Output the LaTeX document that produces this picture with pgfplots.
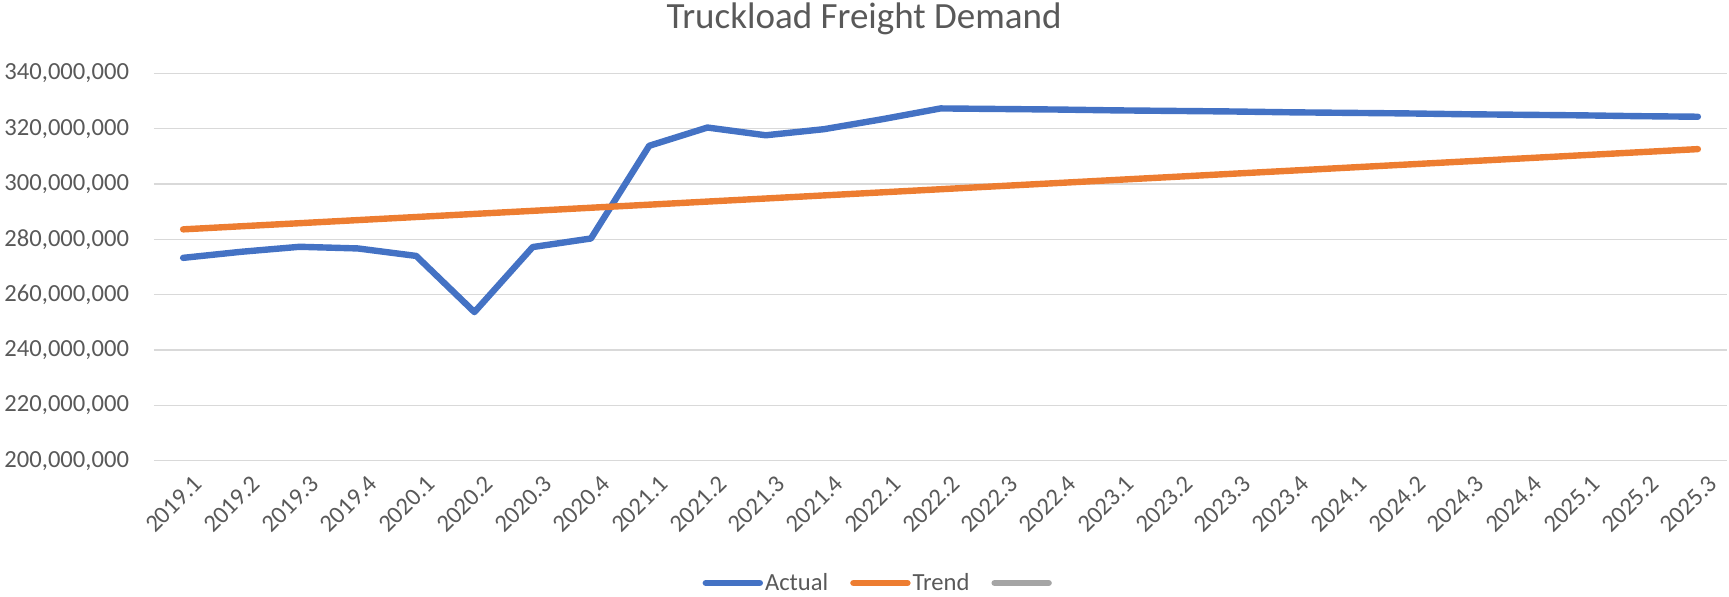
\documentclass[border=0pt]{standalone}
\usepackage{pgfplots}
\pgfplotsset{compat=1.18}
\usepackage{fontspec}
\setmainfont{Carlito}
\definecolor{txt}{HTML}{595959}
\definecolor{grd}{HTML}{D9D9D9}
\definecolor{cA}{HTML}{4472C4}
\definecolor{cB}{HTML}{ED7D31}
\definecolor{cC}{HTML}{A5A5A5}
\begin{document}
\begin{tikzpicture}
\path[use as bounding box] (0,0) rectangle (864.5pt,298.5pt);
\begin{axis}[
  at={(77pt,68.15pt)}, anchor=south west,
  scale only axis, width=786.5pt, height=193.7pt,
  xmin=-0.5, xmax=26.5, ymin=200000000, ymax=340000000,
  xtick={0,...,26},
  xticklabels={2019.1,2019.2,2019.3,2019.4,2020.1,2020.2,2020.3,2020.4,2021.1,2021.2,2021.3,2021.4,2022.1,2022.2,2022.3,2022.4,2023.1,2023.2,2023.3,2023.4,2024.1,2024.2,2024.3,2024.4,2025.1,2025.2,2025.3},
  ytick={200000000,220000000,240000000,260000000,280000000,300000000,320000000,340000000},
  scaled y ticks=false,
  yticklabel style={/pgf/number format/fixed,/pgf/number format/precision=0,/pgf/number format/1000 sep={,},/pgf/number format/assume math mode=true, font=\fontsize{12.3}{14}\selectfont, text=txt, anchor=east, xshift=-9pt},
  xticklabel style={rotate=45, anchor=east, font=\fontsize{12.3}{14}\selectfont, text=txt, yshift=-12pt, xshift=2pt},
  major tick length=0pt,
  axis line style={draw=none},
  ymajorgrids, grid style={grd, line width=0.75pt},
  every axis title shift=0pt,
  title={Truckload Freight Demand},
  title style={at={(0.4514,1.1144)}, anchor=base, font=\fontsize{18.5}{20}\selectfont, text=txt},
  legend style={draw=none, fill=none, at={(0.3447,-0.3157)}, anchor=west, legend columns=3, font=\fontsize{12.3}{14}\selectfont, text=txt, nodes={inner sep=1pt}, /tikz/every even column/.append style={column sep=10pt}},
  legend image code/.code={\draw[#1, line cap=round] (0pt,0pt) -- (27pt,0pt);},
  clip=false,
]
\addplot[cA, line width=3.2pt, line cap=round, line join=round] coordinates {
(0,273300000) (1,275500000) (2,277300000) (3,276700000) (4,274000000) (5,253700000) (6,277200000) (7,280300000) (8,313800000) (9,320400000) (10,317600000) (11,319800000) (12,323400000) (13,327300000) (14,327100000) (15,326900000) (16,326600000) (17,326400000) (18,326200000) (19,325900000) (20,325700000) (21,325500000) (22,325200000) (23,325000000) (24,324800000) (25,324500000) (26,324300000)
};
\addlegendentry{Actual}
\addplot[cB, line width=3.2pt, line cap=round, line join=round] coordinates {
(0,283600000) (1,284720000) (2,285830000) (3,286950000) (4,288060000) (5,289180000) (6,290290000) (7,291410000) (8,292520000) (9,293640000) (10,294750000) (11,295870000) (12,296980000) (13,298100000) (14,299220000) (15,300330000) (16,301450000) (17,302560000) (18,303680000) (19,304790000) (20,305910000) (21,307020000) (22,308140000) (23,309250000) (24,310370000) (25,311480000) (26,312600000)
};
\addlegendentry{Trend}
\addlegendimage{cC, line width=3.2pt}
\addlegendentry{}
\end{axis}
\end{tikzpicture}
\end{document}
